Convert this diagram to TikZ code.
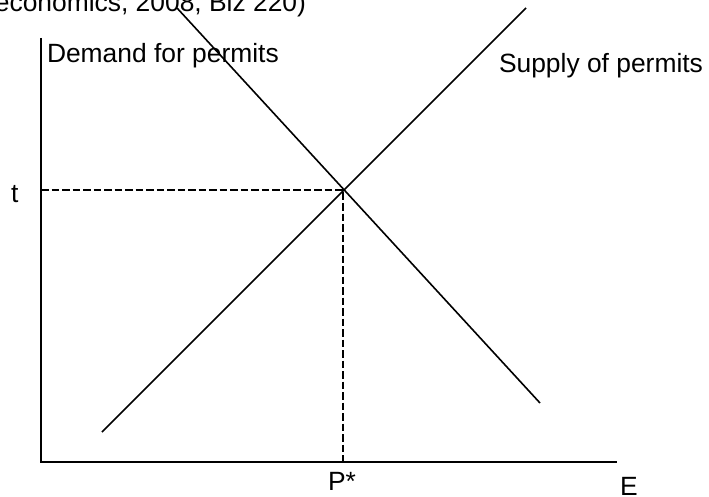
\documentclass[tikz,border=0pt]{standalone}
\usepackage{fontspec}
\setmainfont{Liberation Sans}
\begin{document}
\begin{tikzpicture}[x=1pt,y=-1pt,
  lbl/.style={inner sep=0pt,outer sep=0pt,font=\fontsize{26.4}{30}\selectfont},
  axis/.style={line width=1.4pt},
  curve/.style={line width=1.6pt},
  guide/.style={line width=2pt,dash pattern=on 7.5pt off 3pt}]
\useasboundingbox (0,0) rectangle (709,497);
\clip (0,0) rectangle (709,497);
% coordinates
\coordinate (O) at (41,462);
\coordinate (Ytop) at (41,38);
\coordinate (Xend) at (617,462);
\coordinate (Eq) at (343,190);
\coordinate (Teq) at (41,190);
\coordinate (Peq) at (343,462);
\coordinate (D1) at (177,8);
\coordinate (D2) at (540,403);
\coordinate (S1) at (102,432);
\coordinate (S2) at (526,8);
% axes
\draw[axis] (Ytop) -- (O) -- (Xend);
% guides
\draw[guide] (Teq) -- (Eq) -- (Peq);
\draw[guide] (Teq) -- (O) -- (Peq);
% curves
\draw[curve] (D1) -- (D2);
\draw[curve] (S1) -- (S2);
% labels
\node[lbl,anchor=base east] (title) at (306,12) {economics, 2008, Biz 220)};
\node[lbl,anchor=base west] (dem) at (47,63) {Demand for permits};
\node[lbl,anchor=base west] (sup) at (499,73) {Supply of permits};
\node[lbl,anchor=base west] (t) at (11,202) {t};
\node[lbl,anchor=base west] (P) at (328,490) {P*};
\node[lbl,anchor=base west] (E) at (620,495) {E};
\end{tikzpicture}
\end{document}
